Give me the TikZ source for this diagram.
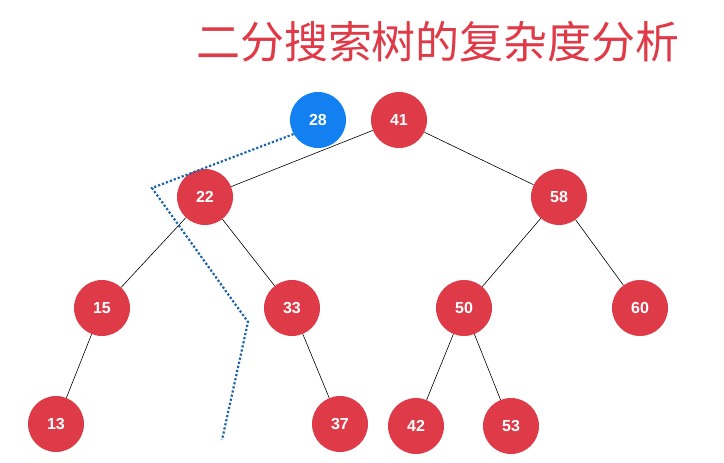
\documentclass[tikz,border=0pt]{standalone}
\usepackage{fontspec}
\setmainfont{Liberation Sans}
\newfontfamily\cjk{Noto Sans CJK SC}
\definecolor{nodered}{RGB}{222,58,72}
\definecolor{nodeblue}{RGB}{18,128,240}
\definecolor{dotblue}{RGB}{30,100,170}
\begin{document}
\begin{tikzpicture}[x=1pt,y=-1pt,
	vertex/.style={circle,fill=nodered,minimum size=56pt,inner sep=0pt,text=white,font=\bfseries\fontsize{16}{18}\selectfont},
	newvertex/.style={vertex,fill=nodeblue},
	edge/.style={black,line width=0.6pt}]
\useasboundingbox (0,0) rectangle (724,463);
\node[font=\cjk\fontsize{44}{50}\selectfont,text=nodered] (title) at (438,42) {二分搜索树的复杂度分析};
% tree
\node[vertex] (n41) at (399,120) {41};
\node[newvertex] (n28) at (318,120) {28};
\node[vertex] (n22) at (205,197) {22};
\node[vertex] (n58) at (559,197) {58};
\node[vertex] (n15) at (102,308) {15};
\node[vertex] (n33) at (292,308) {33};
\node[vertex] (n50) at (464,308) {50};
\node[vertex] (n60) at (640,308) {60};
\node[vertex] (n13) at (56,424) {13};
\node[vertex] (n37) at (340,424) {37};
\node[vertex] (n42) at (416,426) {42};
\node[vertex] (n53) at (511,426) {53};
\foreach \a/\b in {41/22,41/58,22/15,22/33,15/13,33/37,58/50,58/60,50/42,50/53}
	\draw[edge] (n\a) -- (n\b);
% search path
\coordinate (p1) at (152,188);
\coordinate (p2) at (248,322);
\coordinate (p3) at (222,440);
\draw[dotblue,line width=2.2pt,dotted] (n28.210) -- (p1) -- (p2) -- (p3);
\end{tikzpicture}
\end{document}
